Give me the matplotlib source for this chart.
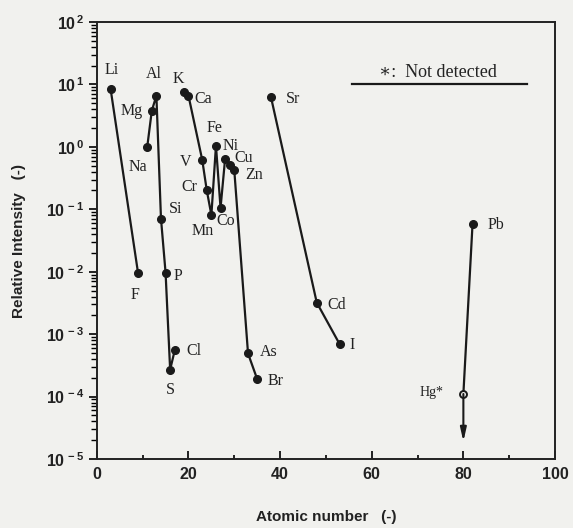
import math
import matplotlib
matplotlib.use("Agg")
import matplotlib.pyplot as plt
from matplotlib.ticker import FixedLocator, NullFormatter, FuncFormatter

plt.rcParams['mathtext.fontset'] = 'custom'
plt.rcParams['mathtext.bf'] = 'Liberation Sans:bold'
plt.rcParams['mathtext.rm'] = 'Liberation Sans:bold'

# chain 1
z_a = [3, 9]
v_a = [8.5, 0.0095]
el_a = ['Li', 'F']
# chain 2
z_b = [11, 12, 13, 14, 15, 16, 17]
v_b = [1.0, 3.8, 6.6, 0.071, 0.0097, 2.7e-4, 5.5e-4]
el_b = ['Na', 'Mg', 'Al', 'Si', 'P', 'S', 'Cl']
# chain 3
z_c = [19, 20, 23, 24, 25, 26, 27, 28, 29, 30, 33, 35]
v_c = [7.7, 6.6, 0.62, 0.20, 0.081, 1.04, 0.105, 0.65, 0.51, 0.42, 4.9e-4, 1.9e-4]
el_c = ['K', 'Ca', 'V', 'Cr', 'Mn', 'Fe', 'Co', 'Ni', 'Cu', 'Zn', 'As', 'Br']
# chain 4
z_d = [38, 48, 53]
v_d = [6.3, 3.2e-3, 6.9e-4]
el_d = ['Sr', 'Cd', 'I']
# Pb (detected) and Hg (not detected)
z_pb, v_pb = 82, 0.058
z_hg, v_hg = 80, 1.1e-4
hg_arrow_end = 1.9e-5

y_major = [1e-5, 1e-4, 1e-3, 1e-2, 1e-1, 1e0, 1e1, 1e2]

# label offsets in pixels (dx, dy)
offsets = {
    'Li': (1, 19), 'F': (-3, -22),
    'Na': (-9, -20), 'Mg': (-20, 0), 'Al': (-3, 22), 'Si': (15, 10),
    'P': (12, -3), 'S': (0, -20), 'Cl': (19, -1),
    'K': (-6, 13), 'Ca': (15, -3), 'V': (-17, -2), 'Cr': (-17, 3),
    'Mn': (-9, -16), 'Fe': (-1, 18), 'Co': (5, -13), 'Ni': (6, 13),
    'Cu': (14, 7), 'Zn': (20, -5), 'As': (21, 1), 'Br': (18, -2),
    'Sr': (22, -2), 'Cd': (20, -2), 'I': (12, -1), 'Pb': (23, -1),
    'Hg*': (-32, 1),
}

serif = ['Liberation Serif', 'DejaVu Serif']
bg = '#f1f1ee'
fig = plt.figure(figsize=(5.73, 5.28), dpi=100, facecolor=bg)
ax = fig.add_axes([0.169, 0.1307, 0.7996, 0.8276])
ax.set_facecolor(bg)
ax.set_yscale('log')
ax.set_xlim(0, 100)
ax.set_ylim(1e-5, 1e2)

lc = '#1a1a1a'
for zs, vs, els in [(z_a, v_a, el_a), (z_b, v_b, el_b), (z_c, v_c, el_c), (z_d, v_d, el_d)]:
    ax.plot(zs, vs, '-o', color=lc, lw=1.6, ms=5.5, mfc=lc, mec=lc)
    for z, v, e in zip(zs, vs, els):
        ax.annotate(e, (z, v), xytext=offsets[e], textcoords='offset pixels',
                    ha='center', va='center', fontsize=11.5,
                    family=serif, color='#222222')

ax.plot([z_pb, z_hg], [v_pb, v_hg], '-', color=lc, lw=1.6)
ax.plot([z_pb], [v_pb], 'o', color=lc, ms=5.5)
ax.annotate('', xy=(z_hg, hg_arrow_end), xytext=(z_hg, v_hg),
            arrowprops=dict(arrowstyle='-|>,head_width=0.18,head_length=0.8', color=lc, lw=1.5,
                            mutation_scale=10, shrinkA=0, shrinkB=0))
ax.plot([z_hg], [v_hg], 'o', ms=5, mfc=bg, mec=lc, mew=1.4)
ax.annotate('Pb', (z_pb, v_pb), xytext=offsets['Pb'], textcoords='offset pixels',
            ha='center', va='center', fontsize=11.5, family=serif, color='#222222')
ax.annotate('Hg*', (z_hg, v_hg), xytext=offsets['Hg*'], textcoords='offset pixels',
            ha='center', va='center', fontsize=10, family=serif, color='#222222')

ax.text(0.745, 0.884, '\u2217:  Not detected', transform=ax.transAxes,
        ha='center', va='center', fontsize=13, family=serif, color='#222222')
ax.plot([0.557, 0.939], [0.858, 0.858], transform=ax.transAxes, color=lc, lw=1.6)

for s in ax.spines.values():
    s.set_linewidth(1.4)
    s.set_color('#222222')

ax.xaxis.set_major_locator(FixedLocator([0, 20, 40, 60, 80, 100]))
ax.xaxis.set_minor_locator(FixedLocator([10, 30, 50, 70, 90]))
ax.tick_params(axis='x', which='major', direction='in', length=6, width=1.4,
               labelsize=11.5, pad=6, colors='#222222')
ax.tick_params(axis='x', which='minor', direction='in', length=3, width=1.2)
ax.yaxis.set_major_locator(FixedLocator(y_major))
ax.yaxis.set_minor_locator(FixedLocator([d * m for d in y_major[:-1] for m in range(2, 10)]))
ax.yaxis.set_minor_formatter(NullFormatter())
ax.yaxis.set_major_formatter(FuncFormatter(lambda v, p: r'$\mathbf{10^{\,%d}}$' % round(math.log10(v))))
ax.tick_params(axis='y', which='major', direction='out', length=6, width=1.4,
               labelsize=11.5, pad=3, colors='#222222')
ax.tick_params(axis='y', which='minor', direction='out', length=4, width=1.0)
ax.tick_params(top=False, right=False, which='both')
for lab in ax.get_xticklabels():
    lab.set_fontfamily('Liberation Sans')
    lab.set_fontweight('bold')

ax.set_xlabel('Atomic number   (-)', fontsize=11, fontweight='bold',
              family='Liberation Sans', labelpad=20, color='#222222')
ax.set_ylabel('Relative Intensity   (-)', fontsize=11, fontweight='bold',
              family='Liberation Sans', labelpad=14, color='#222222')

fig.savefig('out.png', dpi=100, facecolor=bg)
